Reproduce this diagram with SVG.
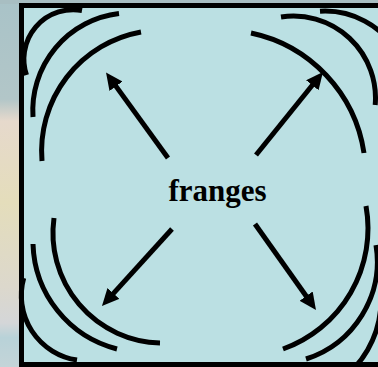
<svg xmlns="http://www.w3.org/2000/svg" width="378" height="367" viewBox="0 0 378 367">
  <defs>
    <linearGradient id="bgStrip" x1="0" y1="0" x2="0" y2="1">
      <stop offset="0" stop-color="#a9c3c8"/>
      <stop offset="0.27" stop-color="#b2c6c8"/>
      <stop offset="0.33" stop-color="#e6d9cc"/>
      <stop offset="0.55" stop-color="#e4ddbb"/>
      <stop offset="0.78" stop-color="#dcd8cc"/>
      <stop offset="0.88" stop-color="#d4d6d8"/>
      <stop offset="0.92" stop-color="#b8d2d8"/>
      <stop offset="1" stop-color="#c4d4d8"/>
    </linearGradient>
    <marker id="ah" markerUnits="userSpaceOnUse" markerWidth="17" markerHeight="16" viewBox="0 0 17 16" refX="7" refY="8" orient="auto">
      <path d="M0,0 L17,8 L0,16 Z" fill="#000"/>
    </marker>
    <style>
      .arc { fill: none; stroke: #000; stroke-width: 5; stroke-linecap: butt; }
      .arrow { fill: none; stroke: #000; stroke-width: 5; stroke-linecap: butt; marker-end: url(#ah); }
      .label { font-family: "Liberation Serif", "Times New Roman", serif; font-weight: bold; font-size: 31px; fill: #000; }
    </style>
  </defs>

  <g id="background">
    <rect x="0" y="0" width="378" height="367" fill="url(#bgStrip)"/>
    <rect x="0" y="0" width="378" height="4" fill="#a8bec2"/>
  </g>

  <g id="frame">
    <rect x="21.5" y="5.5" width="400" height="359" fill="#bbe0e3" stroke="#000" stroke-width="5"/>
  </g>

  <g id="fringes-top-left">
    <path class="arc" d="M82 10.5 A49.4 49.4 0 0 0 26.5 75"/>
    <path class="arc" d="M119 13.5 A97.7 97.7 0 0 0 33 117"/>
    <path class="arc" d="M141 32 A121 121 0 0 0 42 161"/>
  </g>

  <g id="fringes-top-right">
    <path class="arc" d="M320 11.2 A84 84 0 0 1 397.7 53"/>
    <path class="arc" d="M281 17 A82 82 0 0 1 375.2 105"/>
    <path class="arc" d="M251 33 A144.5 144.5 0 0 1 364 153"/>
  </g>

  <g id="fringes-bottom-left">
    <path class="arc" d="M23.7 278 A65.3 65.3 0 0 0 77 360"/>
    <path class="arc" d="M33 244 A111.7 111.7 0 0 0 117 349"/>
    <path class="arc" d="M54 218 A109.9 109.9 0 0 0 160 343"/>
  </g>

  <g id="fringes-bottom-right">
    <path class="arc" d="M366 206 A128 128 0 0 1 283 349"/>
    <path class="arc" d="M376 245 A102.6 102.6 0 0 1 306 359"/>
    <path class="arc" d="M381 300 A100 100 0 0 1 331 386.6"/>
  </g>

  <g id="connectors">
    <line class="arrow" x1="168" y1="158" x2="111.9" y2="80.6"/>
    <line class="arrow" x1="256" y1="155" x2="316.7" y2="79.8"/>
    <line class="arrow" x1="172" y1="229" x2="108.7" y2="298.6"/>
    <line class="arrow" x1="255" y1="224" x2="310.2" y2="301.8"/>
  </g>

  <g id="label-franges">
    <text class="label" x="217.5" y="200.5" text-anchor="middle">franges</text>
  </g>
</svg>
